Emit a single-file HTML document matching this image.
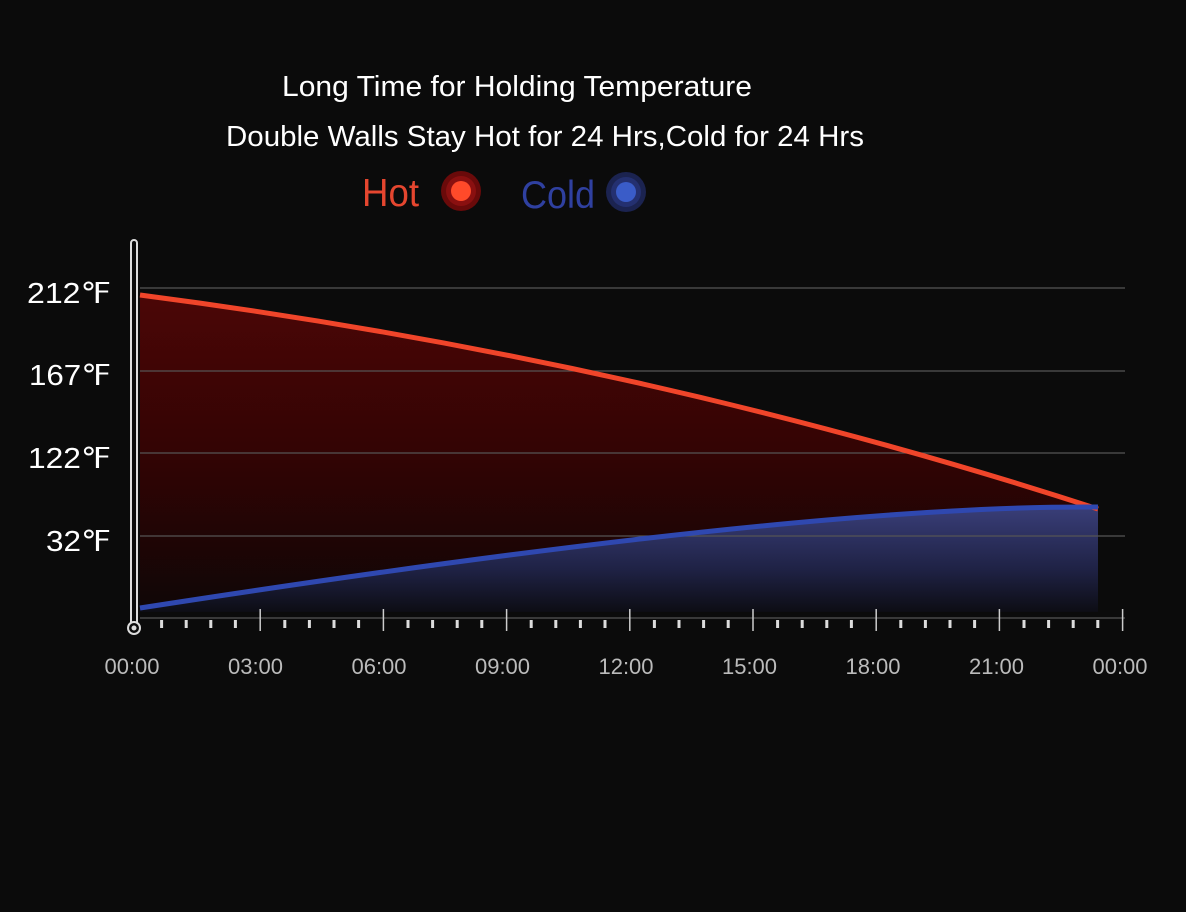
<!DOCTYPE html>
<html><head><style>
body{margin:0;background:#0b0b0b;}
svg{display:block}
text{font-family:"Liberation Sans Narrow","Liberation Sans",sans-serif;}
</style></head><body>
<svg width="1186" height="912" viewBox="0 0 1186 912">
<defs>
<linearGradient id="hotg" gradientUnits="userSpaceOnUse" x1="0" y1="290" x2="0" y2="615">
<stop offset="0" stop-color="#4c0606"/><stop offset="0.5" stop-color="#330404"/><stop offset="1" stop-color="#0e0606"/>
</linearGradient>
<linearGradient id="coldg" gradientUnits="userSpaceOnUse" x1="0" y1="505" x2="0" y2="612">
<stop offset="0" stop-color="#3a3f7a"/><stop offset="0.6" stop-color="#1f2245"/><stop offset="1" stop-color="#0d0d14"/>
</linearGradient>
</defs>
<rect width="1186" height="912" fill="#0b0b0b"/>
<text x="282" y="96" font-size="29" fill="#fff" textLength="470" lengthAdjust="spacingAndGlyphs">Long Time for Holding Temperature</text>
<text x="226" y="146" font-size="29" fill="#fff" textLength="638" lengthAdjust="spacingAndGlyphs">Double Walls Stay Hot for 24 Hrs,Cold for 24 Hrs</text>
<text x="362" y="206" font-size="39" fill="#e5462f" textLength="57" lengthAdjust="spacingAndGlyphs">Hot</text>
<circle cx="461" cy="191" r="20" fill="#6a0a0a"/><circle cx="461" cy="191" r="15" fill="#8a1010"/><circle cx="461" cy="191" r="10" fill="#ff4a2a"/>
<text x="521" y="208" font-size="39" fill="#2f40a0" textLength="74" lengthAdjust="spacingAndGlyphs">Cold</text>
<circle cx="626" cy="192" r="20" fill="#1b2350"/><circle cx="626" cy="192" r="15" fill="#243070"/><circle cx="626" cy="192" r="10" fill="#3a5cc8"/>
<path d="M140,295 Q640,360 1098,509 L1098,612 L140,612 Z" fill="url(#hotg)"/>
<path d="M140,608 C450,560 850,505 1098,507 L1098,612 L140,612 Z" fill="url(#coldg)"/>
<g stroke="#555" stroke-width="1.2">
<line x1="140" y1="288" x2="1125" y2="288"/><line x1="140" y1="371" x2="1125" y2="371"/>
<line x1="140" y1="453" x2="1125" y2="453"/><line x1="140" y1="536" x2="1125" y2="536"/>
<line x1="140" y1="618" x2="1125" y2="618"/>
</g>
<path d="M140,295 Q640,360 1098,509" fill="none" stroke="#f0452a" stroke-width="5"/>
<path d="M140,608 C450,560 850,505 1098,507" fill="none" stroke="#2f48b0" stroke-width="5"/>
<rect x="131" y="240" width="6" height="386" rx="3" fill="none" stroke="#ddd" stroke-width="2"/>
<circle cx="134" cy="628" r="6" fill="#0b0b0b" stroke="#ddd" stroke-width="2"/>
<circle cx="134" cy="628" r="2.5" fill="#ddd"/>
<g fill="#ddd" id="ticks"></g>
<g stroke="#ccc" stroke-width="1.5" id="maj"></g>
<g font-size="22" fill="#bbb" text-anchor="middle" id="xl"></g>
<g font-size="29" fill="#fff">
<text x="27" y="303" textLength="84" lengthAdjust="spacingAndGlyphs">212℉</text>
<text x="29" y="385" textLength="82" lengthAdjust="spacingAndGlyphs">167℉</text>
<text x="28" y="468" textLength="83" lengthAdjust="spacingAndGlyphs">122℉</text>
<text x="46" y="551" textLength="65" lengthAdjust="spacingAndGlyphs">32℉</text>
</g>
</svg>
<script>
var ns="http://www.w3.org/2000/svg",t=document.getElementById('ticks'),m=document.getElementById('maj'),xl=document.getElementById('xl');
var labs=["00:00","03:00","06:00","09:00","12:00","15:00","18:00","21:00","00:00"];
for(var i=0;i<8;i++){var x0=137+i*123.2;
 var l=document.createElementNS(ns,'line');l.setAttribute('x1',x0+123.2);l.setAttribute('x2',x0+123.2);l.setAttribute('y1',609);l.setAttribute('y2',631);m.appendChild(l);
 for(var j=1;j<5;j++){var r=document.createElementNS(ns,'rect');r.setAttribute('x',x0+j*24.6-1.5);r.setAttribute('y',620);r.setAttribute('width',3);r.setAttribute('height',8);t.appendChild(r);}}
for(var i=0;i<9;i++){var tx=document.createElementNS(ns,'text');tx.setAttribute('x',132+i*123.5);tx.setAttribute('y',674);tx.textContent=labs[i];xl.appendChild(tx);}
</script>
</body></html>
